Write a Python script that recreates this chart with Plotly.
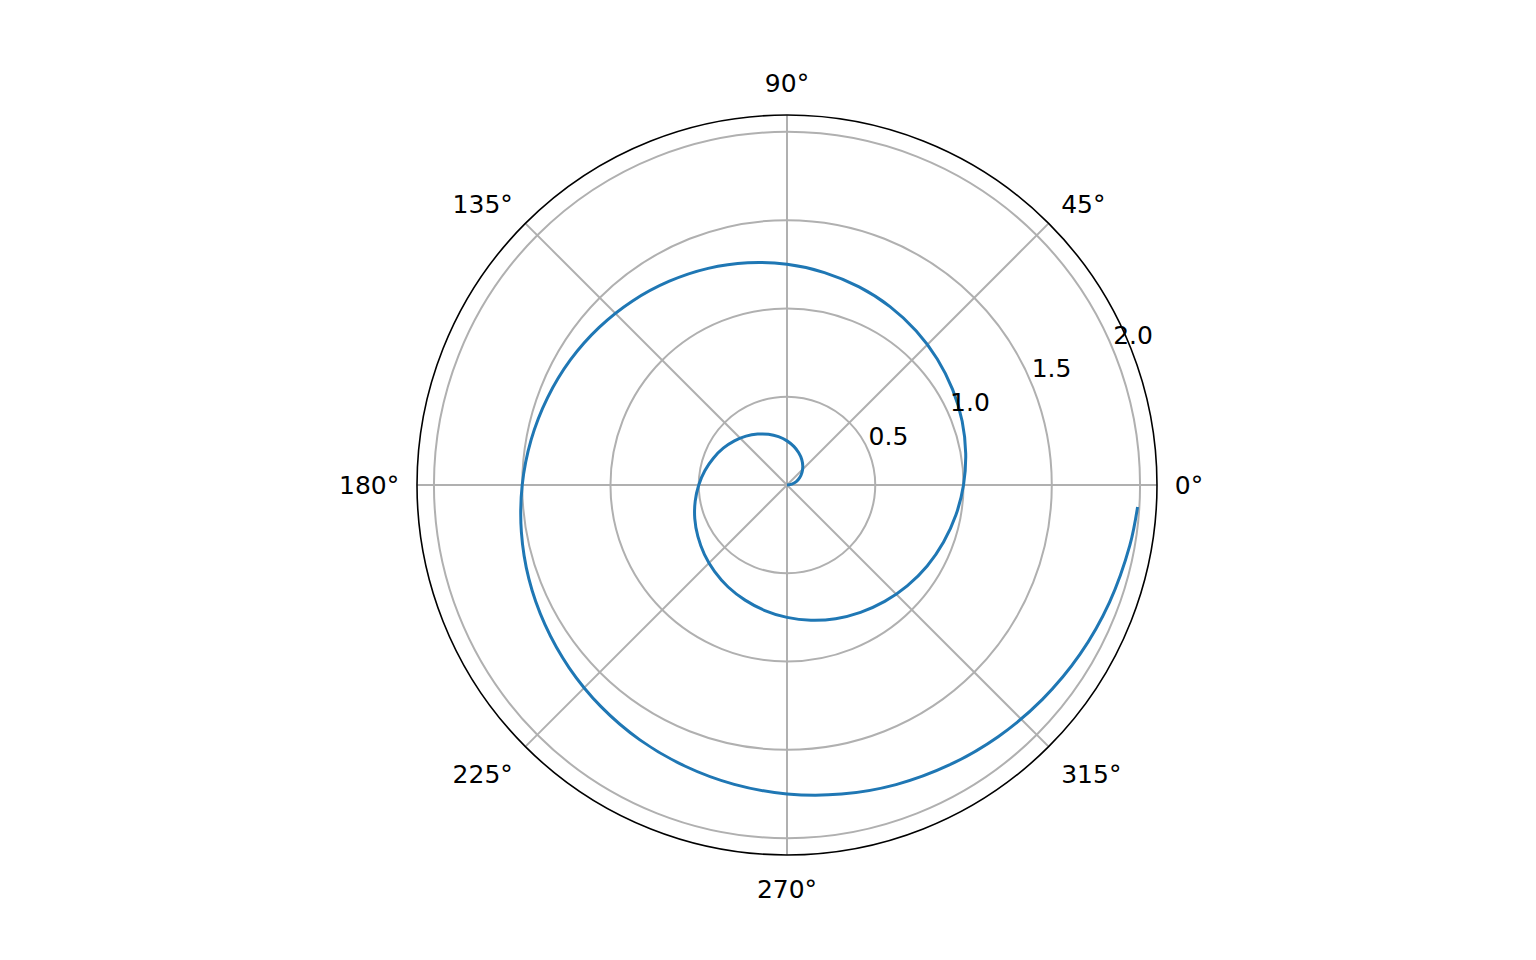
import plotly.graph_objects as go

theta_deg = [0, 10, 20, 30, 40, 50, 60, 70, 80, 90, 100, 110, 120, 130, 140, 150, 160, 170,
             180, 190, 200, 210, 220, 230, 240, 250, 260, 270, 280, 290, 300, 310, 320, 330, 340, 350,
             360, 370, 380, 390, 400, 410, 420, 430, 440, 450, 460, 470, 480, 490, 500, 510, 520, 530,
             540, 550, 560, 570, 580, 590, 600, 610, 620, 630, 640, 650, 660, 670, 680, 690, 700, 710, 716.4]
r_vals = [0, 0.028, 0.056, 0.083, 0.111, 0.139, 0.167, 0.194, 0.222, 0.25, 0.278, 0.306, 0.333, 0.361,
          0.389, 0.417, 0.444, 0.472, 0.5, 0.528, 0.556, 0.583, 0.611, 0.639, 0.667, 0.694, 0.722, 0.75,
          0.778, 0.806, 0.833, 0.861, 0.889, 0.917, 0.944, 0.972, 1.0, 1.028, 1.056, 1.083, 1.111, 1.139,
          1.167, 1.194, 1.222, 1.25, 1.278, 1.306, 1.333, 1.361, 1.389, 1.417, 1.444, 1.472, 1.5, 1.528,
          1.556, 1.583, 1.611, 1.639, 1.667, 1.694, 1.722, 1.75, 1.778, 1.806, 1.833, 1.861, 1.889, 1.917,
          1.944, 1.972, 1.99]

angle_ticks = [0, 45, 90, 135, 180, 225, 270, 315]
angle_labels = ["0°", "45°", "90°", "135°", "180°", "225°", "270°", "315°"]
radial_ticks = [0.5, 1.0, 1.5, 2.0]
radial_labels = ["0.5", "1.0", "1.5", "2.0"]

R_MAX = 2.096          # radial axis extent
LABEL_ANGLE = 22.5     # where radial labels sit

fig = go.Figure()
fig.add_trace(go.Scatterpolar(
    r=r_vals, theta=theta_deg, mode="lines",
    line=dict(color="#1f77b4", width=3, shape="spline"),
    showlegend=False, hoverinfo="skip"))
# radial tick labels (matplotlib style: bottom-left anchored at the gridline)
fig.add_trace(go.Scatterpolar(
    r=radial_ticks, theta=[LABEL_ANGLE] * len(radial_ticks), mode="text",
    text=radial_labels, textposition="top right",
    textfont=dict(family="DejaVu Sans", size=25, color="black"),
    showlegend=False, hoverinfo="skip", cliponaxis=False))

W, H = 1536, 960
cx, cy, R = 779, 477, 370
fig.update_layout(
    width=W, height=H,
    margin=dict(l=0, r=0, t=0, b=0),
    paper_bgcolor="white",
    font=dict(family="DejaVu Sans", size=25, color="black"),
    polar=dict(
        domain=dict(x=[(cx - R) / W, (cx + R) / W], y=[(H - cy - R) / H, (H - cy + R) / H]),
        bgcolor="white",
        angularaxis=dict(
            tickmode="array", tickvals=angle_ticks, ticktext=angle_labels,
            rotation=0, direction="counterclockwise",
            showgrid=True, gridcolor="#b0b0b0", gridwidth=1.6,
            showline=True, linecolor="black", linewidth=1.6,
            ticks="outside", ticklen=12, tickcolor="rgba(0,0,0,0)",
            tickfont=dict(size=25)),
        radialaxis=dict(
            range=[0, R_MAX], tickmode="array", tickvals=radial_ticks, ticktext=radial_labels,
            angle=LABEL_ANGLE, showline=False, ticks="", showticklabels=False,
            showgrid=True, gridcolor="#b0b0b0", gridwidth=1.6),
    ),
)
fig.write_html("out.html")
